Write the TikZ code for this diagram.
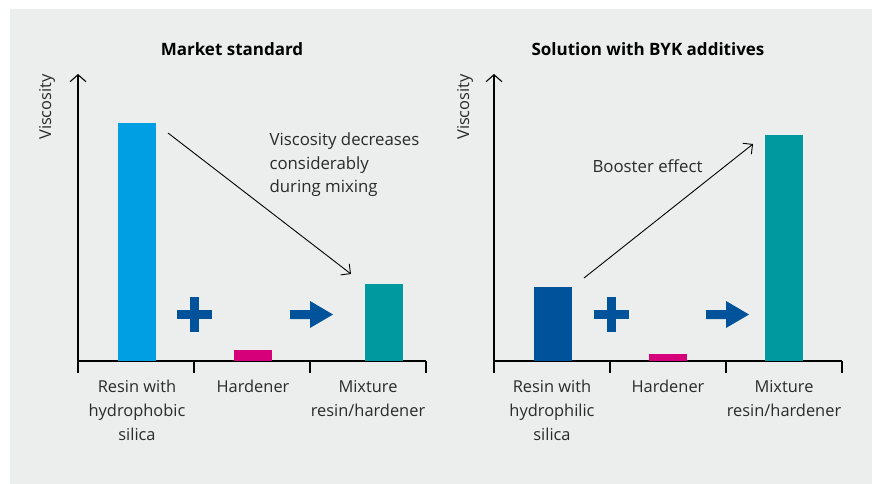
\documentclass[tikz,border=0pt]{standalone}
\usepackage{fontspec}
\setmainfont{Open Sans}
\usetikzlibrary{arrows.meta}
\definecolor{panelgray}{HTML}{ECEDED}
\definecolor{lightblue}{HTML}{009FE3}
\definecolor{darkblue}{HTML}{00529B}
\definecolor{magentabar}{HTML}{D5007A}
\definecolor{tealbar}{HTML}{0099A0}
\definecolor{labelgray}{HTML}{2A2A2A}
\begin{document}
\begin{tikzpicture}[x=1pt,y=-1pt,
    axis/.style={line width=1.1pt,-{Straight Barb[length=7pt,width=16pt]}},
    tick/.style={line width=1.1pt},
    trend/.style={line width=0.9pt,-{Straight Barb[length=7pt,width=14pt]}},
    bar/.style={anchor=south,minimum width=38pt,inner sep=0pt},
    lbl/.style={text=labelgray,align=center,font=\fontsize{16.4}{24}\selectfont},
    note/.style={text=labelgray,align=left,anchor=west,font=\fontsize{16.8}{23.5}\selectfont},
    ttl/.style={font=\fontsize{17}{20}\selectfont\bfseries,text=black}]
  \useasboundingbox (0,0) rectangle (872,484);
  \fill[panelgray] (10,9) rectangle (872,484);

  % market standard
  \node[ttl] (t1) at (232,49) {Market standard};
  \draw[axis] (78,361) -- (78,74);
  \draw[tick] (78,361) -- (426,361);
  \foreach \x in {78,194,310,426} \draw[tick] (\x,361) -- (\x,373);
  \node[rotate=90,lbl] (v1) at (47,107) {Viscosity};
  \node[bar,fill=lightblue,minimum height=238pt] (a1) at (137,361) {};
  \node[bar,fill=magentabar,minimum height=11pt] (a2) at (253,361) {};
  \node[bar,fill=tealbar,minimum height=77pt] (a3) at (384,361) {};
  \coordinate (s1) at (168,133);
  \coordinate (e1) at (351,274);
  \draw[trend] (s1) -- (e1);
  \node[note] (n1) at (266,165) {Viscosity decreases\\considerably\\during mixing};
  \node[lbl,anchor=north] (l1) at (137,377) {Resin with\\hydrophobic\\silica};
  \node[lbl,anchor=north] (l2) at (253,377) {Hardener};
  \node[lbl,anchor=north] (l3) at (368,377) {Mixture\\resin/hardener};

  % solution with BYK
  \node[ttl] (t2) at (648,49) {Solution with BYK additives};
  \draw[axis] (494,361) -- (494,74);
  \draw[tick] (494,361) -- (842,361);
  \foreach \x in {494,610,726,842} \draw[tick] (\x,361) -- (\x,373);
  \node[rotate=90,lbl] (v2) at (465,107) {Viscosity};
  \node[bar,fill=darkblue,minimum height=74pt] (b1) at (553,361) {};
  \node[bar,fill=magentabar,minimum height=7pt] (b2) at (668,361) {};
  \node[bar,fill=tealbar,minimum height=226pt] (b3) at (784,361) {};
  \coordinate (s2) at (584,278);
  \coordinate (e2) at (753,144);
  \draw[trend] (s2) -- (e2);
  \node[note] (n2) at (589,166) {Booster effect};
  \node[lbl,anchor=north] (m1) at (552,377) {Resin with\\hydrophilic\\silica};
  \node[lbl,anchor=north] (m2) at (668,377) {Hardener};
  \node[lbl,anchor=north] (m3) at (784,377) {Mixture\\resin/hardener};

  % plus and arrow symbols
  \foreach \x in {194.5,611.5} {
    \fill[darkblue] ({\x-17.5},310) rectangle ({\x+17.5},319);
    \fill[darkblue] ({\x-4.5},297) rectangle ({\x+4.5},332);
  }
  \foreach \x in {290,706}
    \fill[darkblue] (\x,310) -- ({\x+20},310) -- ({\x+20},301) -- ({\x+43},314.5)
      -- ({\x+20},328) -- ({\x+20},319) -- (\x,319) -- cycle;
\end{tikzpicture}
\end{document}
